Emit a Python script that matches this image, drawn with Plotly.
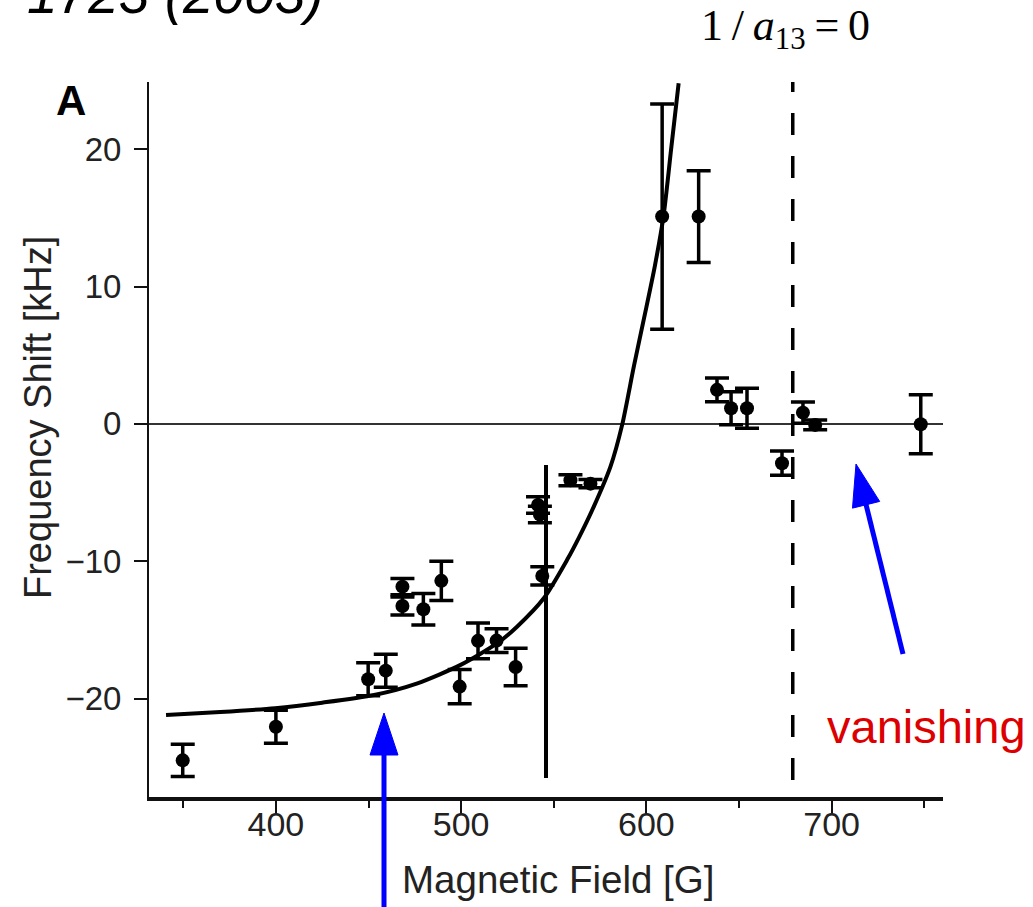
import plotly.graph_objects as go

# Measured frequency shift vs. magnetic field (with 1-sigma error bars)
field_G = [349.7, 400.0, 449.8, 459.3, 468.3, 468.3, 479.6, 489.3, 499.2, 509.1,
           519.1, 529.4, 541.5, 542.5, 543.8, 559.0, 569.8, 608.5, 628.2, 638.1,
           645.7, 654.3, 673.2, 684.5, 691.1, 748.1]
shift_kHz = [-24.5, -22.05, -18.6, -17.97, -11.85, -13.26, -13.5, -11.43, -19.13, -15.8,
             -15.78, -17.7, -5.9, -6.6, -11.07, -4.1, -4.35, 15.1, 15.1, 2.48,
             1.14, 1.14, -2.86, 0.82, -0.07, -0.02]
err_kHz = [1.17, 1.2, 1.2, 1.2, 0.6, 0.65, 1.15, 1.43, 1.24, 1.3,
           0.86, 1.37, 0.6, 0.6, 0.66, 0.4, 0.3, 8.2, 3.34, 0.87,
           1.2, 1.45, 0.88, 0.77, 0.36, 2.15]

# Theory curve (mean-field shift)
curve_B = [340.7, 370.0, 399.6, 425.0, 453.0, 476.4, 499.7, 519.5, 530.3, 544.6,
           557.2, 563.5, 571.6, 580.6, 586.9, 593.2, 598.9, 604.5, 609.2, 613.3, 617.4]
curve_shift = [-21.19, -20.98, -20.7, -20.3, -19.74, -18.89, -17.55, -15.97, -14.75, -12.7,
               -9.9, -8.3, -6.02, -3.11, -0.07, 4.17, 7.81, 11.46, 15.1, 19.96, 24.81]

# Vertical marker at the 1-2 resonance and the 1/a13 = 0 position
marker_B = [545.8, 545.8]
marker_shift = [-2.99, -25.78]
a13_pole_B = 679.0

x_ticks = [400, 500, 600, 700]
x_minor = [350, 450, 550, 650, 750]
y_ticks = [-20, -10, 0, 10, 20]

X_RANGE = [331.5, 760.1]
Y_RANGE = [-27.17, 24.9]

W_FIG, H_FIG = 1033, 907
L, R, T, B = 149, 943, 82, 797  # plot area in pixels


def px_x(px):
    return (px - L) / (R - L)


def px_y(py):
    return (B - py) / (B - T)


SANS = "Liberation Sans, Arial, Helvetica, sans-serif"
SERIF = "Liberation Serif, Times New Roman, serif"
INK = "#111111"

fig = go.Figure()

fig.add_trace(go.Scatter(
    x=curve_B, y=curve_shift, mode="lines",
    line=dict(color="black", width=4, shape="spline", smoothing=0.7),
    hoverinfo="skip", showlegend=False,
))

fig.add_trace(go.Scatter(
    x=marker_B, y=marker_shift, mode="lines",
    line=dict(color="black", width=4),
    hoverinfo="skip", showlegend=False,
))

fig.add_trace(go.Scatter(
    x=field_G, y=shift_kHz, mode="markers",
    marker=dict(color="black", size=14),
    error_y=dict(type="data", array=err_kHz, visible=True,
                 thickness=3.5, width=12, color="black"),
    showlegend=False,
))

# dashed line where 1/a13 = 0
fig.add_shape(type="line", xref="x", yref="paper",
              x0=a13_pole_B, x1=a13_pole_B, y0=px_y(780), y1=px_y(82),
              line=dict(color="black", width=3.5, dash="22px,21px"))

BLUE = "#0000ff"


def arrow(x_tail, y_tail, x_tip, y_tip, head_len=42, head_half=14, width=5):
    dx, dy = x_tip - x_tail, y_tip - y_tail
    n = (dx * dx + dy * dy) ** 0.5
    ux, uy = dx / n, dy / n
    bx, by = x_tip - ux * head_len, y_tip - uy * head_len
    px_, py_ = -uy, ux
    c1 = (bx + px_ * head_half, by + py_ * head_half)
    c2 = (bx - px_ * head_half, by - py_ * head_half)
    fig.add_shape(type="line", xref="paper", yref="paper",
                  x0=px_x(x_tail), y0=px_y(y_tail), x1=px_x(bx + ux * 2), y1=px_y(by + uy * 2),
                  line=dict(color=BLUE, width=width))
    path = "M {:.5f},{:.5f} L {:.5f},{:.5f} L {:.5f},{:.5f} Z".format(
        px_x(x_tip), px_y(y_tip), px_x(c1[0]), px_y(c1[1]), px_x(c2[0]), px_y(c2[1]))
    fig.add_shape(type="path", xref="paper", yref="paper", path=path,
                  fillcolor=BLUE, line=dict(color=BLUE, width=1))


arrow(384, 912, 384, 713)
arrow(903, 654, 856, 464)

annotations = [
    dict(text="Magnetic Field [G]", x=px_x(558), y=px_y(880), xanchor="center", yanchor="middle",
         font=dict(family=SANS, size=38.5, color="#222")),
    dict(text="Frequency Shift [kHz]", x=px_x(38), y=px_y(418), xanchor="center", yanchor="middle",
         textangle=-90, font=dict(family=SANS, size=38, color="#222")),
    dict(text="<b>A</b>", x=px_x(71), y=px_y(100), xanchor="center", yanchor="middle",
         font=dict(family=SANS, size=42, color="black")),
    dict(text="1\u2009/\u2009<i>a</i><sub>13</sub>\u2009=\u20090", x=px_x(699), y=px_y(28),
         xanchor="left", yanchor="middle", font=dict(family=SERIF, size=44, color="black")),
    dict(text="vanishing", x=px_x(825), y=px_y(726), xanchor="left", yanchor="middle",
         font=dict(family=SANS, size=47, color="#dd0000")),
    dict(text="<i>1723 (2003)</i>", x=px_x(25), y=px_y(-6), xanchor="left", yanchor="middle",
         font=dict(family=SANS, size=55, color="black")),
]
for a in annotations:
    fig.add_annotation(xref="paper", yref="paper", showarrow=False, **a)

fig.update_xaxes(
    range=X_RANGE, showgrid=False, zeroline=False,
    showline=True, linewidth=4, linecolor=INK,
    ticks="outside", ticklen=14, tickwidth=2, tickcolor=INK,
    tickmode="array", tickvals=x_ticks, ticktext=[str(v) for v in x_ticks],
    minor=dict(tickmode="array", tickvals=x_minor, ticks="outside", ticklen=7,
               tickwidth=2, tickcolor=INK, showgrid=False),
    tickfont=dict(family=SANS, size=34, color="#222"),
    ticklabelstandoff=-20,
)
fig.update_yaxes(
    range=Y_RANGE, showgrid=False,
    zeroline=True, zerolinecolor="#333", zerolinewidth=1.5,
    showline=True, linewidth=2, linecolor=INK,
    ticks="outside", ticklen=13, tickwidth=2, tickcolor=INK,
    tickmode="array", tickvals=y_ticks,
    tickfont=dict(family=SANS, size=33, color="#222"),
    ticklabelstandoff=6,
)

fig.update_layout(
    width=W_FIG, height=H_FIG,
    margin=dict(l=L, r=W_FIG - R, t=T, b=H_FIG - B, pad=0),
    paper_bgcolor="white", plot_bgcolor="white",
    showlegend=False,
)

fig.write_html("out.html")
